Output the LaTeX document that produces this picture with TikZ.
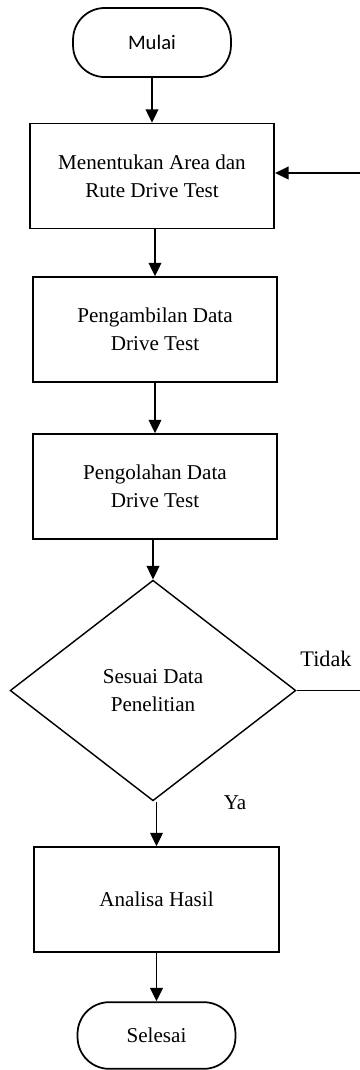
\documentclass[tikz,border=0pt]{standalone}
\usepackage{fontspec}
\setmainfont{Liberation Serif}
\newfontfamily\calibrifont{Carlito}
\usepackage{tikz}
\usetikzlibrary{arrows.meta,shapes.geometric}

\begin{document}
\begin{tikzpicture}[x=0.63pt, y=-0.63pt,
  teks/.style={font=\fontsize{13.3}{17.5}\selectfont},
  proses/.style={draw, line width=1.1pt, minimum width=154pt, minimum height=66pt,
    inner sep=0pt, align=center, teks},
  terminal/.style={draw, line width=1.1pt, rounded corners=20pt, minimum width=99.5pt,
    minimum height=42pt, inner sep=0pt, teks},
  keputusan/.style={draw, diamond, line width=0.9pt, minimum width=180pt, minimum height=139pt,
    inner sep=0pt, align=center, teks},
  panah/.style={-{Triangle[length=8.5pt,width=8pt]}, line width=1.1pt}]
  % page of 360 x 1070 px, one unit is one px
  \useasboundingbox (0,0) rectangle (360,1070);
  \node[terminal, minimum height=43.5pt, font=\calibrifont\fontsize{13}{15}\selectfont] (mulai) at (152,42.5) {Mulai};
  \node[proses] (area) at (152,176) {Menentukan Area dan\\Rute Drive Test};
  \node[proses] (ambil) at (155,329.5) {Pengambilan Data\\Drive Test};
  \node[proses] (olah) at (155,486.5) {Pengolahan Data\\Drive Test};
  \node[keputusan] (sesuai) at (153,690.5) {Sesuai Data\\Penelitian};
  \node[proses] (analisa) at (156.5,899.5) {Analisa Hasil};
  \node[terminal] (selesai) at (156.5,1035.5) {Selesai};
  \node[font=\fontsize{14}{16}\selectfont] (tidak) at (326,659) {Tidak};
  \node[teks] (ya) at (235,803) {Ya};
  % loop back enters from the right edge
  \coordinate (balik) at (360,173);
  \coordinate (tidakend) at (360,690.5);
  \draw[panah] (mulai) -- (area);
  \draw[panah] (area.south -| ambil) -- (ambil.north);
  \draw[panah] (ambil) -- (olah);
  \draw[panah] (olah.south -| sesuai) -- (sesuai.north);
  \draw[panah] (sesuai.south -| analisa) -- (analisa.north);
  \draw[panah] (analisa) -- (selesai);
  \draw[panah] (balik) -- (balik -| area.east);
  \draw[line width=1.1pt] (sesuai.east) -- (tidakend);
\end{tikzpicture}
\end{document}
